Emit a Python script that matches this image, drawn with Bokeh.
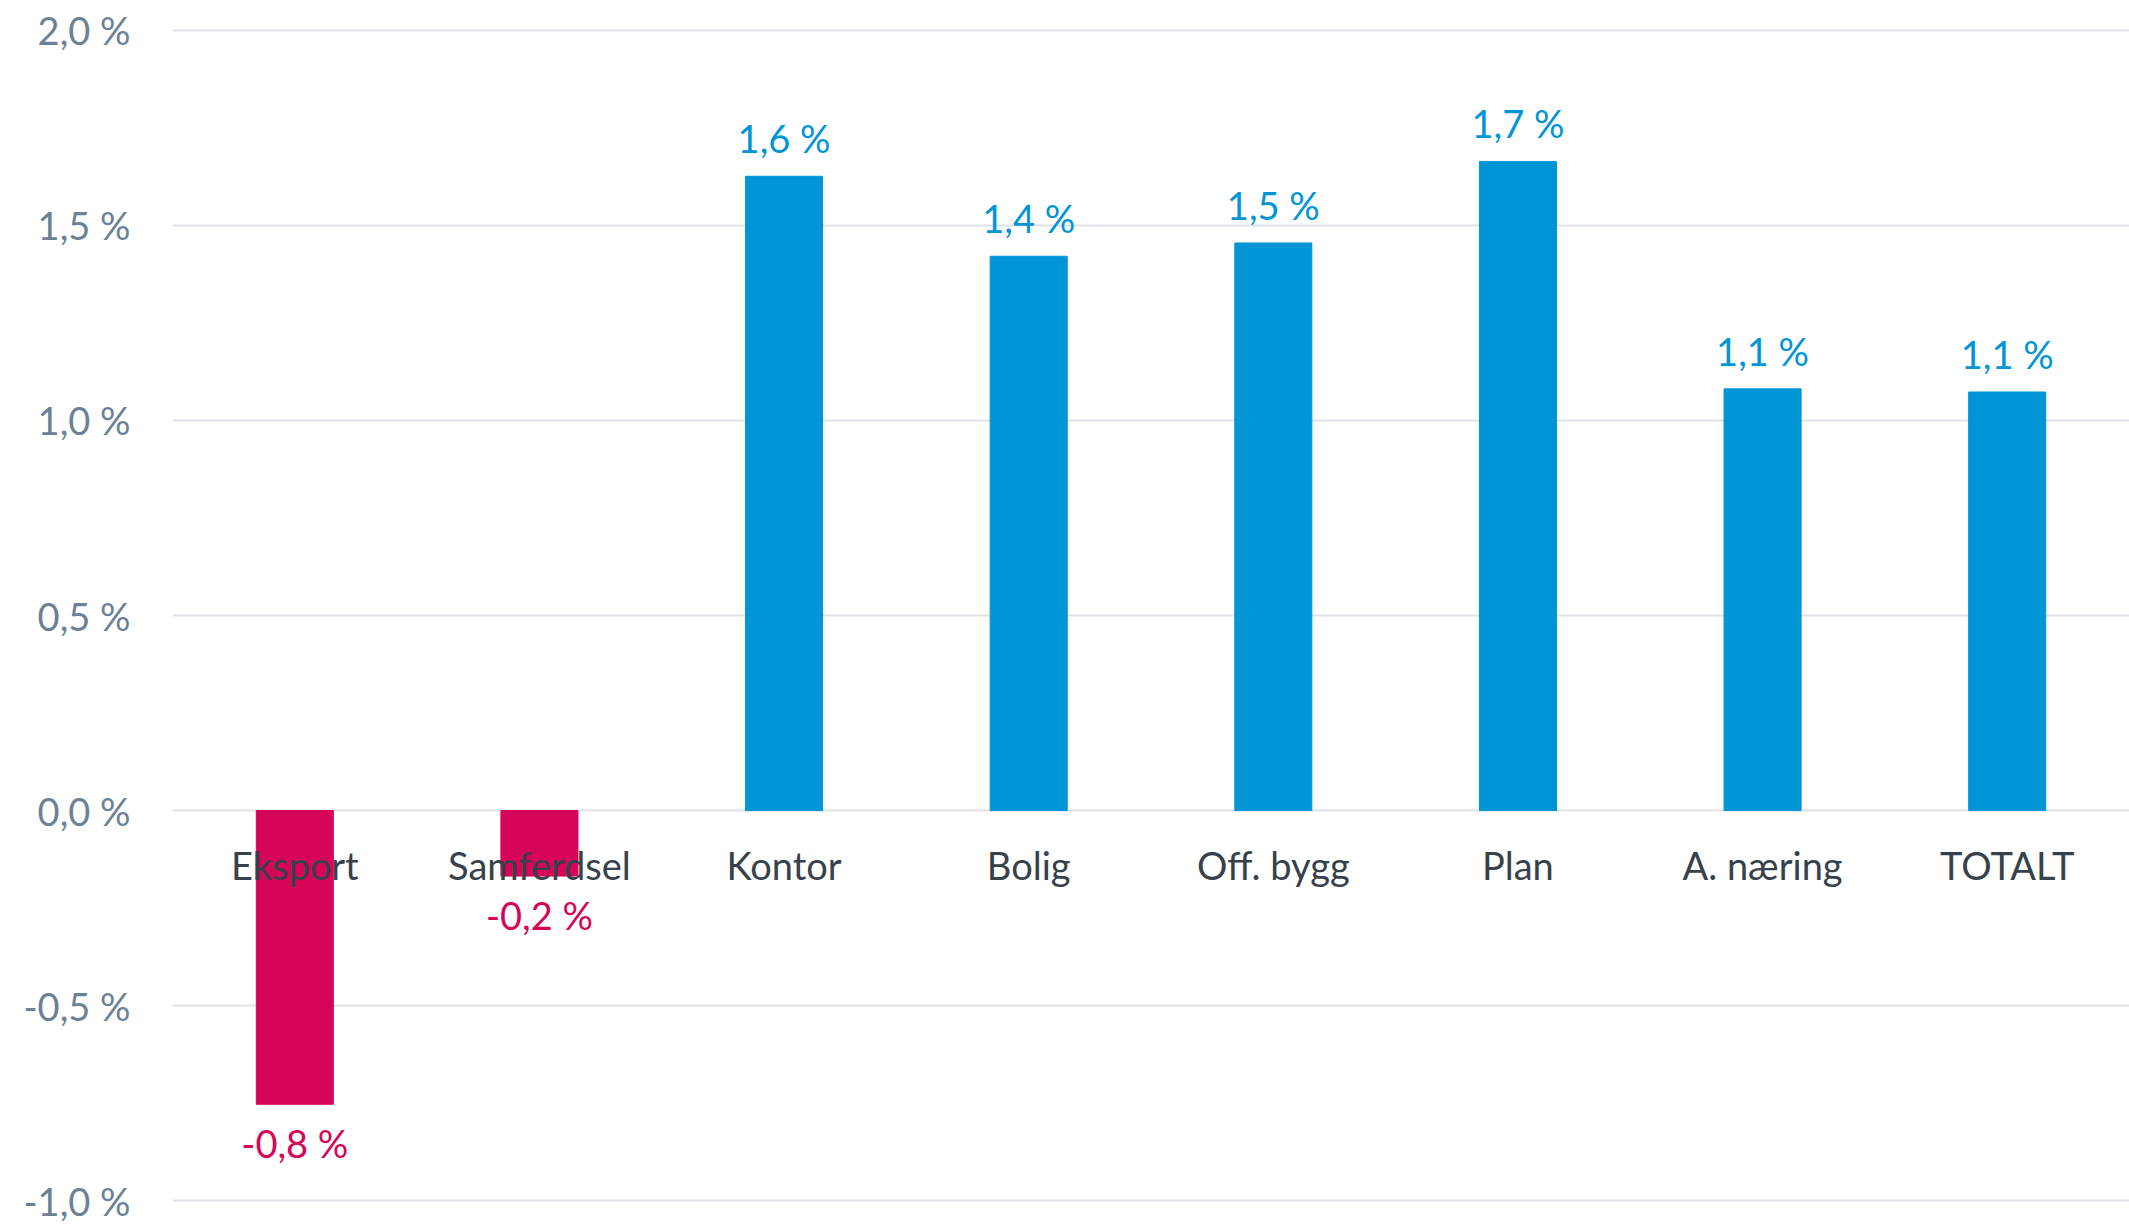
from bokeh.plotting import figure
from bokeh.models import ColumnDataSource, FactorRange, FixedTicker, Range1d
from bokeh.core.properties import value
from bokeh.embed import file_html
from bokeh.resources import INLINE

categories = ["Eksport", "Samferdsel", "Kontor", "Bolig", "Off. bygg", "Plan", "A. næring", "TOTALT"]
values = [-0.753, -0.168, 1.626, 1.421, 1.455, 1.664, 1.081, 1.073]
value_labels = ["-0,8 %", "-0,2 %", "1,6 %", "1,4 %", "1,5 %", "1,7 %", "1,1 %", "1,1 %"]
tick_values = [-1.0, -0.5, 0.0, 0.5, 1.0, 1.5, 2.0]
tick_labels = ["-1,0 %", "-0,5 %", "0,0 %", "0,5 %", "1,0 %", "1,5 %", "2,0 %"]

BLUE = "#0095D7"
RED = "#D70557"
FONT = "Lato"
FS = "38px"

colors = [BLUE if v >= 0 else RED for v in values]
src = ColumnDataSource(dict(cat=categories, val=values, color=colors, lab=value_labels))

pos = [i for i, v in enumerate(values) if v >= 0]
neg = [i for i, v in enumerate(values) if v < 0]
src_pos = ColumnDataSource(dict(cat=[categories[i] for i in pos], val=[values[i] for i in pos],
                                lab=[value_labels[i] for i in pos]))
src_neg = ColumnDataSource(dict(cat=[categories[i] for i in neg], val=[values[i] for i in neg],
                                lab=[value_labels[i] for i in neg]))

p = figure(width=2129, height=1224, x_range=FactorRange(*categories, range_padding=0),
           y_range=Range1d(-1.01, 2.01), output_backend="svg", toolbar_location=None,
           x_axis_location=None, min_border_left=172, min_border_right=0,
           min_border_top=26, min_border_bottom=20)
p.outline_line_color = None
p.background_fill_color = "white"
p.border_fill_color = "white"

p.xgrid.visible = False
p.ygrid.grid_line_color = "#DDE2E7"
p.ygrid.grid_line_width = 2

ax = p.yaxis[0]
ax.ticker = FixedTicker(ticks=tick_values)
ax.major_label_overrides = dict(zip(tick_values, tick_labels))
ax.axis_line_color = None
ax.major_tick_line_color = None
ax.minor_tick_line_color = None
ax.major_tick_in = 0
ax.major_tick_out = 0
ax.major_label_standoff = 42
ax.major_label_text_font = FONT
ax.major_label_text_font_size = FS
ax.major_label_text_color = "#6A8196"

p.vbar(x="cat", top="val", bottom=0, width=0.315, color="color", source=src)

p.text(x="cat", y="val", text="lab", source=src_pos, text_align="center",
       text_baseline="alphabetic", y_offset=-38, text_font=value(FONT),
       text_font_size=FS, text_color=BLUE)
p.text(x="cat", y="val", text="lab", source=src_neg, text_align="center",
       text_baseline="alphabetic", y_offset=39, text_font=value(FONT),
       text_font_size=FS, text_color=RED)

p.text(x=categories, y=[0] * len(categories), text=categories, text_align="center",
       text_baseline="alphabetic", y_offset=54, text_font=value(FONT),
       text_font_size=FS, text_color="#37414B")

open("out.html", "w").write(file_html(p, INLINE))
